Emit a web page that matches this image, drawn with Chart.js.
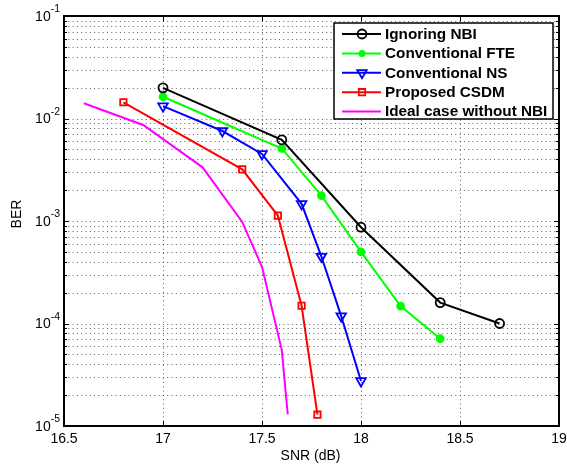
<!DOCTYPE html>
<html>
<head>
<meta charset="utf-8">
<script src="https://cdn.jsdelivr.net/npm/chart.js@4/dist/chart.umd.min.js"></script>
<style>
  html, body { margin: 0; padding: 0; background: #ffffff; }
  #wrap { width: 567px; height: 464px; }
</style>
</head>
<body>
<div id="wrap"><canvas id="ber" width="567" height="464"></canvas></div>
<script>
// BER versus SNR for the narrowband-interference (NBI) mitigation schemes
const seriesNames = ['Ignoring NBI', 'Conventional FTE', 'Conventional NS', 'Proposed CSDM', 'Ideal case without NBI'];

const snrIgnoring = [17, 17.6, 18, 18.4, 18.7];
const berIgnoring = [0.0199, 0.0062, 0.00087, 1.6e-4, 1.0e-4];

const snrFte = [17, 17.6, 17.8, 18, 18.2, 18.4];
const berFte = [0.0163, 0.0051, 0.00177, 5.0e-4, 1.48e-4, 7.1e-5];

const snrNs = [17, 17.3, 17.5, 17.7, 17.8, 17.9, 18];
const berNs = [0.0132, 0.00755, 0.00451, 0.00147, 4.5e-4, 1.18e-4, 2.75e-5];

const snrCsdm = [16.8, 17.4, 17.58, 17.7, 17.78];
const berCsdm = [0.0144, 0.00319, 0.00113, 1.49e-4, 1.29e-5];

const snrIdeal = [16.6, 16.9, 17.2, 17.4, 17.5, 17.6, 17.63];
const berIdeal = [0.0141, 0.00865, 0.00334, 9.8e-4, 3.58e-4, 5.5e-5, 1.3e-5];

const xTickValues = [16.5, 17, 17.5, 18, 18.5, 19];
const xTickLabels = ['16.5', '17', '17.5', '18', '18.5', '19'];
const yTickExponents = [-5, -4, -3, -2, -1];

const xTitle = 'SNR (dB)';
const yTitle = 'BER';

function pairs(xs, ys) {
  return xs.map((x, i) => ({ x: x, y: ys[i] }));
}

const FONT = '"Liberation Sans", Arial, Helvetica, sans-serif';

const datasets = [
  { label: seriesNames[0], data: pairs(snrIgnoring, berIgnoring), borderColor: '#000000',
    pointStyle: 'circle', pointRadius: 4.5, pointBackgroundColor: 'rgba(0,0,0,0)', pointBorderColor: '#000000', marker: 'openCircle' },
  { label: seriesNames[1], data: pairs(snrFte, berFte), borderColor: '#00ff00',
    pointStyle: 'circle', pointRadius: 3.5, pointBackgroundColor: '#00ff00', pointBorderColor: '#00ff00', marker: 'dot' },
  { label: seriesNames[2], data: pairs(snrNs, berNs), borderColor: '#0000ff',
    pointStyle: 'triangle', pointRotation: 180, pointRadius: 5.5, pointBackgroundColor: 'rgba(0,0,0,0)', pointBorderColor: '#0000ff', marker: 'triangleDown' },
  { label: seriesNames[3], data: pairs(snrCsdm, berCsdm), borderColor: '#ff0000',
    pointStyle: 'rect', pointRadius: 4.5, pointBackgroundColor: 'rgba(0,0,0,0)', pointBorderColor: '#ff0000', marker: 'square' },
  { label: seriesNames[4], data: pairs(snrIdeal, berIdeal), borderColor: '#ff00ff',
    pointRadius: 0, marker: 'none' }
].map(d => Object.assign({ showLine: true, borderWidth: 2, pointBorderWidth: 1.8, pointHoverRadius: 0, tension: 0, fill: false }, d));

// Dotted grid, drawn underneath the curves
const gridPlugin = {
  id: 'dottedGrid',
  beforeDatasetsDraw(chart) {
    const ctx = chart.ctx, a = chart.chartArea;
    const xs = chart.scales.x, ys = chart.scales.y;
    ctx.save();
    ctx.strokeStyle = 'rgba(40,40,40,0.75)';
    ctx.lineWidth = 1;
    ctx.setLineDash([1, 3.3]);
    xTickValues.forEach(v => {
      const px = Math.round(xs.getPixelForValue(v)) + 0.5;
      if (px <= a.left + 1 || px >= a.right - 1) return;
      ctx.beginPath(); ctx.moveTo(px, a.bottom); ctx.lineTo(px, a.top); ctx.stroke();
    });
    for (let e = yTickExponents[0]; e < yTickExponents[yTickExponents.length - 1]; e++) {
      for (let m = 1; m <= 9; m++) {
        const py = Math.round(ys.getPixelForValue(m * Math.pow(10, e))) + 0.5;
        if (py >= a.bottom - 1 || py <= a.top + 1) continue;
        ctx.beginPath(); ctx.moveTo(a.left, py); ctx.lineTo(a.right, py); ctx.stroke();
      }
    }
    ctx.restore();
  }
};

function drawMarker(ctx, kind, x, y, color) {
  ctx.save();
  ctx.strokeStyle = color; ctx.fillStyle = color; ctx.lineWidth = 1.8;
  ctx.beginPath();
  if (kind === 'openCircle') {
    ctx.arc(x, y, 4.5, 0, Math.PI * 2); ctx.stroke();
  } else if (kind === 'dot') {
    ctx.arc(x, y, 3.5, 0, Math.PI * 2); ctx.fill();
  } else if (kind === 'triangleDown') {
    const r = 5.5;
    ctx.moveTo(x - r * 0.866, y - r * 0.5);
    ctx.lineTo(x + r * 0.866, y - r * 0.5);
    ctx.lineTo(x, y + r);
    ctx.closePath(); ctx.stroke();
  } else if (kind === 'square') {
    const s = 4.5 / Math.SQRT2;
    ctx.rect(x - s, y - s, 2 * s, 2 * s); ctx.stroke();
  }
  ctx.restore();
}

// Axes frame, inward ticks, tick labels, titles and legend
const framePlugin = {
  id: 'frame',
  afterDraw(chart) {
    const ctx = chart.ctx, a = chart.chartArea;
    const xs = chart.scales.x, ys = chart.scales.y;
    ctx.save();
    ctx.setLineDash([]);
    ctx.strokeStyle = '#000000';

    // inward tick marks
    ctx.lineWidth = 1;
    xTickValues.forEach(v => {
      const px = Math.round(xs.getPixelForValue(v)) + 0.5;
      ctx.beginPath();
      ctx.moveTo(px, a.bottom); ctx.lineTo(px, a.bottom - 5);
      ctx.moveTo(px, a.top); ctx.lineTo(px, a.top + 5);
      ctx.stroke();
    });
    for (let e = yTickExponents[0]; e <= yTickExponents[yTickExponents.length - 1]; e++) {
      for (let m = 1; m <= 9; m++) {
        if (e === yTickExponents[yTickExponents.length - 1] && m > 1) break;
        const py = Math.round(ys.getPixelForValue(m * Math.pow(10, e))) + 0.5;
        const len = m === 1 ? 5 : 3;
        ctx.beginPath();
        ctx.moveTo(a.left, py); ctx.lineTo(a.left + len, py);
        ctx.moveTo(a.right, py); ctx.lineTo(a.right - len, py);
        ctx.stroke();
      }
    }

    // frame
    ctx.lineWidth = 2;
    ctx.strokeRect(a.left, a.top, a.right - a.left, a.bottom - a.top);

    // x tick labels
    ctx.fillStyle = '#000000';
    ctx.font = '14px ' + FONT;
    ctx.textAlign = 'center';
    ctx.textBaseline = 'middle';
    xTickValues.forEach((v, i) => {
      ctx.fillText(xTickLabels[i], xs.getPixelForValue(v), a.bottom + 13);
    });

    // y tick labels: 10 with a raised exponent
    yTickExponents.forEach(e => {
      const py = ys.getPixelForValue(Math.pow(10, e));
      const sup = '-' + Math.abs(e);
      ctx.font = '10.5px ' + FONT;
      const supW = ctx.measureText(sup).width;
      ctx.textAlign = 'left';
      ctx.fillText(sup, a.left - 4 - supW, py - 6.5);
      ctx.font = '14px ' + FONT;
      ctx.textAlign = 'right';
      ctx.fillText('10', a.left - 4 - supW, py + 1);
    });

    // axis titles
    ctx.font = '14px ' + FONT;
    ctx.textAlign = 'center';
    ctx.fillText(xTitle, (a.left + a.right) / 2 - 1, a.bottom + 30);
    ctx.save();
    ctx.translate(17, (a.top + a.bottom) / 2 - 7);
    ctx.rotate(-Math.PI / 2);
    ctx.fillText(yTitle, 0, 0);
    ctx.restore();

    // legend
    const bx = 334, by = 23, bw = 219, bh = 96;
    ctx.fillStyle = '#ffffff';
    ctx.fillRect(bx, by, bw, bh);
    ctx.lineWidth = 1.5;
    ctx.strokeStyle = '#000000';
    ctx.strokeRect(bx, by, bw, bh);
    ctx.font = 'bold 15.3px ' + FONT;
    ctx.textAlign = 'left';
    ctx.textBaseline = 'middle';
    chart.data.datasets.forEach((d, i) => {
      const y = by + 11 + i * 19.4;
      ctx.strokeStyle = d.borderColor;
      ctx.lineWidth = 2;
      ctx.beginPath(); ctx.moveTo(342, y); ctx.lineTo(381, y); ctx.stroke();
      drawMarker(ctx, d.marker, 362, y, d.borderColor);
      ctx.fillStyle = '#000000';
      ctx.fillText(d.label, 385, y + 0.5);
    });
    ctx.restore();
  }
};

new Chart(document.getElementById('ber'), {
  type: 'scatter',
  data: { datasets: datasets },
  options: {
    responsive: false,
    devicePixelRatio: 1,
    animation: false,
    events: [],
    layout: { padding: { left: 64, right: 8, top: 16, bottom: 38 } },
    plugins: { legend: { display: false }, tooltip: { enabled: false } },
    scales: {
      x: {
        type: 'linear', min: 16.5, max: 19,
        grid: { display: false, drawTicks: false },
        border: { display: false },
        ticks: { display: false, stepSize: 0.5 }
      },
      y: {
        type: 'logarithmic', min: 1e-5, max: 1e-1,
        grid: { display: false, drawTicks: false },
        border: { display: false },
        ticks: { display: false }
      }
    }
  },
  plugins: [gridPlugin, framePlugin]
});
</script>
</body>
</html>
